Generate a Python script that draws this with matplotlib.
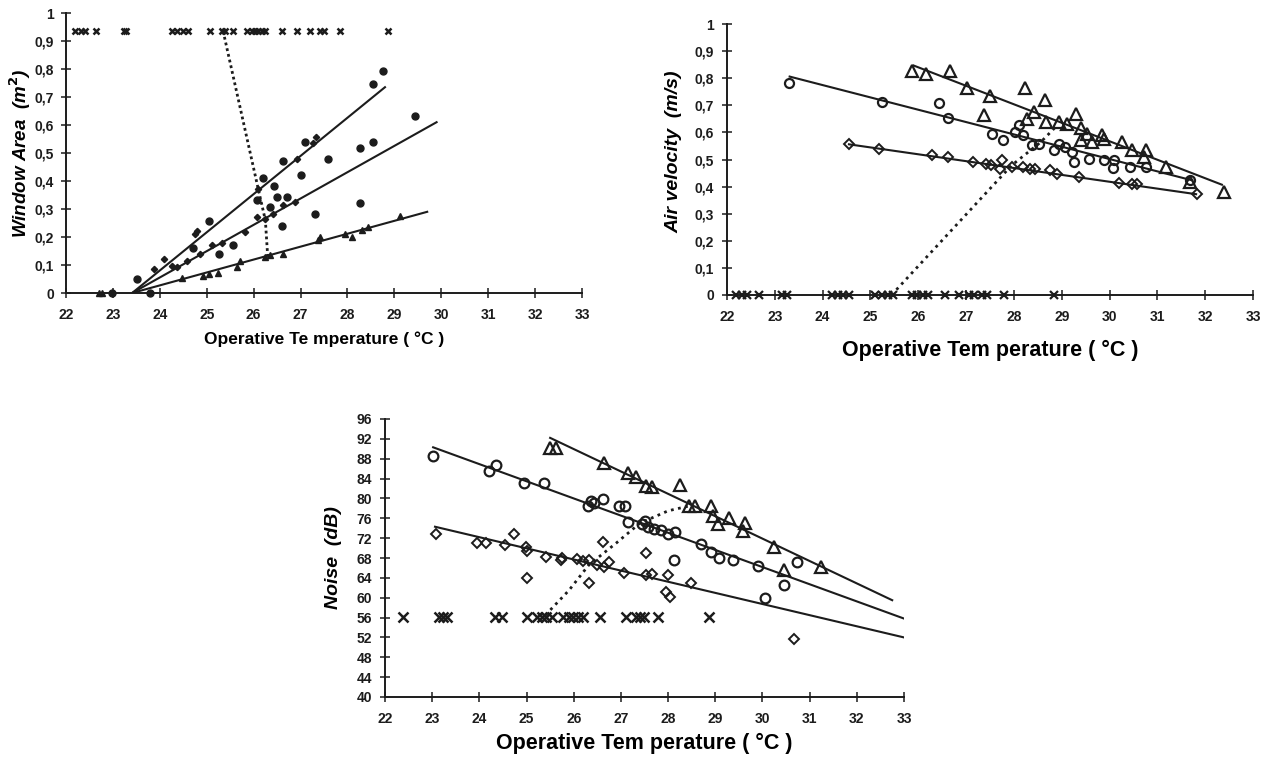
import matplotlib
matplotlib.use("Agg")
import matplotlib.pyplot as plt
import numpy as np

plt.rcParams['font.family'] = ['Liberation Sans', 'DejaVu Sans']

# ---------------- Panel 1: Window Area ----------------
wa_closed_t = [22.2, 22.31, 22.41, 22.64, 23.23, 23.28, 24.26, 24.36, 24.5, 24.61, 25.07, 25.32,
               25.39, 25.57, 25.85, 25.96, 26.03, 26.1, 26.17, 26.24, 26.6, 26.92, 27.2, 27.42,
               27.49, 27.84, 28.87]
wa_closed_v = 0.935
wa_dot_t = [23.51, 23.8, 25.04, 24.7, 25.27, 25.57, 26.21, 26.07, 26.35, 26.44, 26.49, 26.6, 26.62,
            26.72, 27.02, 27.1, 27.31, 27.59, 28.27, 28.27, 28.55, 28.55, 28.76, 29.44, 22.98]
wa_dot_v = [0.05, 0.0, 0.257, 0.16, 0.14, 0.17, 0.41, 0.333, 0.307, 0.381, 0.343, 0.24, 0.47,
            0.343, 0.42, 0.54, 0.283, 0.48, 0.518, 0.32, 0.54, 0.747, 0.793, 0.632, 0.0]
wa_dia_t = [24.08, 24.26, 24.75, 24.79, 26.1, 26.92, 27.27, 27.34,
            23.87, 24.36, 24.58, 24.86, 25.11, 25.32, 25.82, 26.07, 26.24, 26.42, 26.63, 26.88]
wa_dia_v = [0.122, 0.098, 0.21, 0.22, 0.37, 0.477, 0.534, 0.558,
            0.086, 0.092, 0.116, 0.14, 0.17, 0.18, 0.217, 0.27, 0.265, 0.283, 0.313, 0.325]
wa_tri_t = [22.7, 22.77, 24.47, 24.93, 25.04, 25.25, 25.64, 25.71, 26.24, 26.35, 26.63, 27.38,
            27.42, 27.95, 28.1, 28.3, 28.44, 29.12]
wa_tri_v = [0.0, 0.0, 0.054, 0.062, 0.068, 0.07, 0.092, 0.116, 0.13, 0.134, 0.14, 0.19,
            0.2, 0.21, 0.2, 0.226, 0.235, 0.274]
wa_fit_top = ([23.41, 28.8], [0.0, 0.735])
wa_fit_mid = ([23.41, 29.9], [0.0, 0.61])
wa_fit_low = ([23.41, 29.7], [0.0, 0.29])
wa_dotted = ([25.35, 26.1, 26.25, 26.3], [0.935, 0.37, 0.26, 0.13])

# ---------------- Panel 2: Air velocity ----------------
av_closed_t = [22.19, 22.31, 22.42, 22.66, 23.16, 23.25, 24.2, 24.32, 24.43, 24.55, 25.09, 25.24,
               25.36, 25.47, 25.86, 25.97, 26.09, 26.2, 26.56, 26.86, 27.06, 27.17, 27.33, 27.44,
               27.79, 28.83]
av_tri_t = [25.86, 26.17, 26.67, 27.02, 27.5, 27.37, 28.24, 28.64, 28.27, 28.41, 28.68, 28.95, 29.1,
            29.3, 29.41, 29.53, 29.41, 29.64, 29.84, 29.88, 30.26, 30.46, 30.76, 30.73, 31.19,
            31.69, 32.39]
av_tri_v = [0.828, 0.816, 0.826, 0.764, 0.736, 0.663, 0.764, 0.718, 0.65, 0.675, 0.638, 0.638, 0.63,
            0.669, 0.617, 0.595, 0.571, 0.564, 0.589, 0.577, 0.564, 0.534, 0.534, 0.509, 0.472,
            0.417, 0.38]
av_cir_t = [23.3, 25.24, 26.44, 26.63, 27.54, 27.78, 28.02, 28.1, 28.18, 28.37, 28.53, 28.83, 28.95,
            29.07, 29.22, 29.26, 29.57, 29.88, 30.1, 30.07, 30.42, 30.76, 31.69]
av_cir_v = [0.782, 0.712, 0.708, 0.654, 0.595, 0.571, 0.601, 0.626, 0.589, 0.552, 0.556, 0.534,
            0.556, 0.546, 0.528, 0.491, 0.503, 0.497, 0.499, 0.47, 0.472, 0.472, 0.423]
av_dia_t = [24.56, 25.17, 26.29, 26.63, 27.14, 27.41, 27.52, 27.75, 27.71, 27.95, 28.18, 28.33,
            28.45, 28.76, 28.91, 29.37, 30.19, 30.46, 30.57, 31.82]
av_dia_v = [0.556, 0.537, 0.515, 0.509, 0.491, 0.485, 0.479, 0.497, 0.466, 0.472, 0.472, 0.466,
            0.466, 0.463, 0.445, 0.436, 0.413, 0.411, 0.411, 0.372]
av_fit_tri = ([25.9, 32.35], [0.847, 0.407])
av_fit_cir = ([23.31, 31.73], [0.806, 0.423])
av_fit_dia = ([24.55, 31.81], [0.556, 0.372])
av_dotted = ([25.44, 27.95, 28.56, 28.9], [0.0, 0.478, 0.564, 0.625])

# ---------------- Panel 3: Noise ----------------
nz_closed_t = [22.38, 23.14, 23.23, 23.31, 24.34, 24.48, 25.0, 25.22, 25.32, 25.42, 25.53, 25.78,
               25.89, 25.99, 26.09, 26.2, 26.55, 27.11, 27.32, 27.41, 27.49, 27.78, 28.87]
nz_closed_v = 56.2
nz_tri_t = [25.5, 25.63, 26.64, 27.14, 27.32, 27.53, 27.66, 28.26, 28.45, 28.57, 28.91, 28.95, 29.06,
            29.29, 29.64, 29.59, 30.25, 30.45, 31.25]
nz_tri_v = [90.1, 90.1, 87.1, 85.2, 84.3, 82.5, 82.3, 82.7, 78.5, 78.5, 78.4, 76.5, 74.9,
            76.0, 75.0, 73.4, 70.3, 65.6, 66.2]
nz_cir_t = [23.02, 24.21, 24.36, 24.94, 25.36, 26.3, 26.36, 26.44, 26.61, 26.97, 27.09, 27.14, 27.45,
            27.5, 27.57, 27.7, 27.86, 27.99, 28.14, 28.12, 28.7, 28.91, 29.08, 29.37, 29.91, 30.45,
            30.73, 30.06]
nz_cir_v = [88.5, 85.6, 86.8, 83.1, 83.1, 78.5, 79.4, 79.0, 79.8, 78.4, 78.4, 75.3, 74.9,
            75.5, 74.2, 73.8, 73.6, 72.8, 73.3, 67.6, 70.8, 69.3, 67.9, 67.6, 66.4, 62.5,
            67.1, 59.9]
nz_dia_t = [23.08, 23.94, 24.15, 24.55, 24.73, 24.98, 25.02, 25.0, 25.42, 25.73, 25.75, 26.07, 26.19,
            26.32, 26.32, 26.49, 26.61, 26.65, 26.74, 27.07, 27.53, 27.53, 27.66, 27.99, 27.95,
            28.03, 28.49, 30.66]
nz_dia_v = [72.8, 71.1, 71.0, 70.6, 72.8, 70.3, 69.5, 63.9, 68.3, 67.6, 68.1, 67.7, 67.3,
            67.6, 63.0, 66.6, 71.3, 66.2, 67.1, 64.9, 69.1, 64.6, 64.8, 64.6, 61.2,
            60.2, 63.0, 51.6]
nz_fit_tri = ([25.5, 32.75], [92.2, 59.5])
nz_fit_cir = ([23.02, 33.0], [90.3, 55.8])
nz_fit_dia = ([23.06, 33.0], [74.3, 52.0])
nz_dotted = ([25.4, 25.9, 26.32, 26.9, 27.4, 28.0, 28.5], [56.5, 61.5, 66.6, 71.0, 75.0, 77.5, 78.6])

x_ticks = list(range(22, 34))

W, H = 1270, 762
fig = plt.figure(figsize=(W / 100, H / 100), dpi=100)
INK = '#1c1c1c'


def ax_at(l, r, t, b):
    return fig.add_axes([l / W, 1 - b / H, (r - l) / W, (b - t) / H])


def style(ax, yticks, ylabels, fs, ypad=6):
    for s in ['top', 'right']:
        ax.spines[s].set_visible(False)
    for s in ['left', 'bottom']:
        ax.spines[s].set_linewidth(1.4)
        ax.spines[s].set_color(INK)
    ax.set_xlim(22, 33)
    ax.set_xticks(x_ticks)
    ax.set_xticklabels([str(v) for v in x_ticks], fontsize=fs, fontweight='bold')
    ax.set_yticks(yticks)
    ax.set_yticklabels(ylabels, fontsize=fs, fontweight='bold')
    ax.tick_params(direction='inout', length=7, width=1.1, color=INK, labelcolor=INK)
    ax.tick_params(axis='x', pad=7)
    ax.tick_params(axis='y', pad=ypad)
    ax.patch.set_alpha(0)


ylab01 = ['0', '0,1', '0,2', '0,3', '0,4', '0,5', '0,6', '0,7', '0,8', '0,9', '1']
yt01 = [i / 10 for i in range(11)]

# Panel 1
ax1 = ax_at(66, 582, 13, 293)
style(ax1, yt01, ylab01, 10, ypad=5)
ax1.set_ylim(0, 1)
for (xs, ys) in [wa_fit_top, wa_fit_mid, wa_fit_low]:
    ax1.plot(xs, ys, color=INK, lw=1.5)
ax1.plot(*wa_dotted, color=INK, lw=2.0, ls=(0, (1, 1.1)))
ax1.plot(wa_dot_t, wa_dot_v, 'o', color=INK, ms=5, ls='none', clip_on=False)
ax1.plot(wa_dia_t, wa_dia_v, 'D', color=INK, ms=3.2, ls='none')
ax1.plot(wa_tri_t, wa_tri_v, '^', color=INK, ms=4.5, ls='none', clip_on=False)
ax1.plot(wa_closed_t, [wa_closed_v] * len(wa_closed_t), 'x', color=INK, ms=4.5, mew=1.8, ls='none')
ax1.set_xlabel('Operative Te mperature ( °C )', fontsize=12.5, fontweight='bold', labelpad=7)
ax1.set_ylabel('Window Area  (m$^{\\mathbf{2}}$)', fontsize=13.5, fontweight='bold', style='italic', labelpad=1)

# Panel 2
ax2 = ax_at(727, 1253, 24, 295)
style(ax2, yt01, ylab01, 10)
ax2.set_ylim(0, 1)
for (xs, ys) in [av_fit_tri, av_fit_cir, av_fit_dia]:
    ax2.plot(xs, ys, color=INK, lw=1.5)
ax2.plot(*av_dotted, color=INK, lw=2.0, ls=(0, (1, 1.6)))
ax2.plot(av_tri_t, av_tri_v, '^', mfc='none', mec=INK, mew=1.6, ms=8, ls='none')
ax2.plot(av_cir_t, av_cir_v, 'o', mfc='none', mec=INK, mew=1.6, ms=6.5, ls='none')
ax2.plot(av_dia_t, av_dia_v, 'D', mfc='none', mec=INK, mew=1.4, ms=5, ls='none')
ax2.plot(av_closed_t, [0] * len(av_closed_t), 'x', color=INK, ms=5.5, mew=1.6, ls='none', clip_on=False)
ax2.set_xlabel('Operative Tem perature ( °C )', fontsize=15.5, fontweight='bold', labelpad=12)
ax2.set_ylabel('Air velocity  (m/s)', fontsize=14, fontweight='bold', style='italic', labelpad=8)
ax2.yaxis.set_label_coords(-0.085, 0.53)

# Panel 3
ax3 = ax_at(385, 904, 419, 697)
nz_ticks = list(range(40, 97, 4))
style(ax3, nz_ticks, [str(v) for v in nz_ticks], 10)
ax3.set_ylim(40, 96)
for (xs, ys) in [nz_fit_tri, nz_fit_cir, nz_fit_dia]:
    ax3.plot(xs, ys, color=INK, lw=1.5)
ax3.plot(*nz_dotted, color=INK, lw=2.0, ls=(0, (1, 1.6)))
ax3.plot(nz_tri_t, nz_tri_v, '^', mfc='none', mec=INK, mew=1.6, ms=8, ls='none')
ax3.plot(nz_cir_t, nz_cir_v, 'o', mfc='none', mec=INK, mew=1.6, ms=7, ls='none')
ax3.plot(nz_dia_t, nz_dia_v, 'D', mfc='none', mec=INK, mew=1.4, ms=5, ls='none')
ax3.plot(nz_closed_t, [nz_closed_v] * len(nz_closed_t), 'x', color=INK, ms=6.5, mew=1.8, ls='none')
ax3.set_xlabel('Operative Tem perature ( °C )', fontsize=15.5, fontweight='bold', labelpad=5)
ax3.set_ylabel('Noise  (dB)', fontsize=14, fontweight='bold', style='italic', labelpad=10)

fig.savefig('out.png', dpi=100)
